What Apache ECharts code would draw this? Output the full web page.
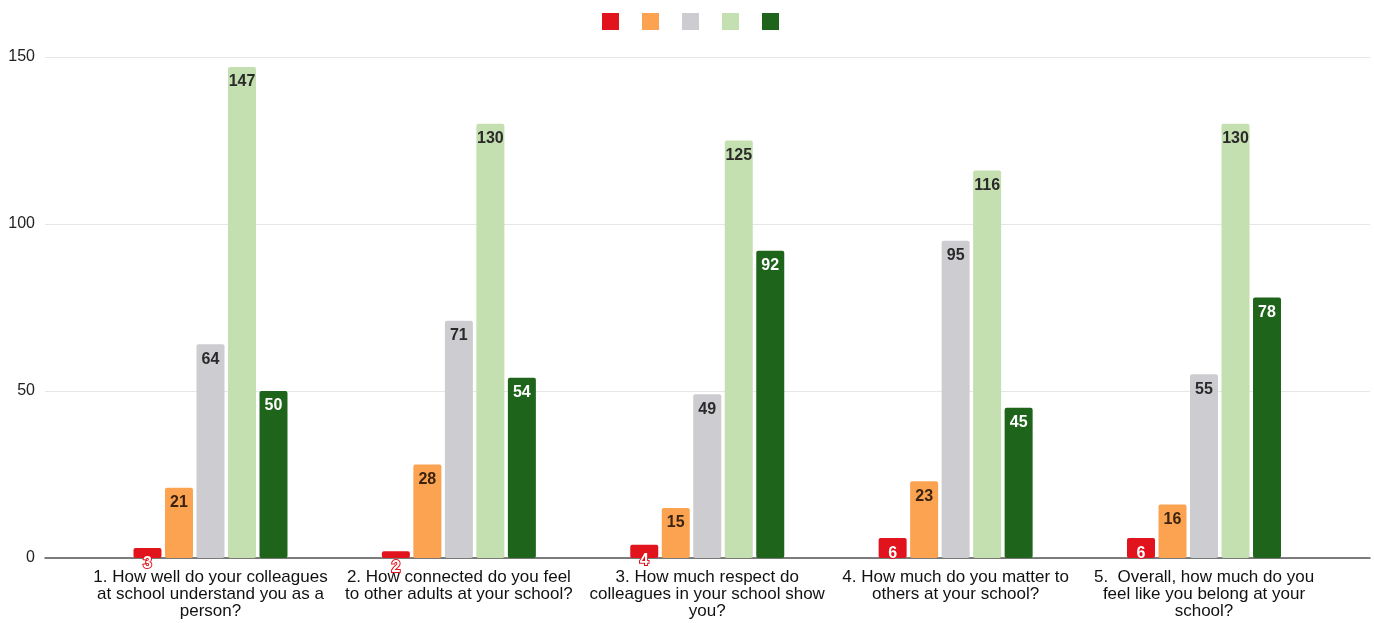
<!DOCTYPE html>
<html>
<head>
<meta charset="utf-8">
<script src="https://cdn.jsdelivr.net/npm/echarts@6/dist/echarts.min.js"></script>
<style>html,body{margin:0;padding:0;background:#fff;}#c{width:1374px;height:623px;}</style>
</head>
<body>
<div id="c"></div>
<script>
const categories = [
  "1. How well do your colleagues\nat school understand you as a\nperson?",
  "2. How connected do you feel\nto other adults at your school?",
  "3. How much respect do\ncolleagues in your school show\nyou?",
  "4. How much do you matter to\nothers at your school?",
  "5.  Overall, how much do you\nfeel like you belong at your\nschool?"
];
const seriesNames = ["Not at all", "A little", "Somewhat", "Quite a bit", "A tremendous amount"];
const redValues = [3, 2, 4, 6, 6];
const orangeValues = [21, 28, 15, 23, 16];
const grayValues = [64, 71, 49, 95, 55];
const lightGreenValues = [147, 130, 125, 116, 130];
const darkGreenValues = [50, 54, 92, 45, 78];
const yTicks = [0, 50, 100, 150];

const colors = ['#e1131d', '#fca352', '#cdcdd1', '#c4dfb0', '#1e641a'];
const labelColors = ['#ffffff', '#3a2410', '#2a2a2a', '#2a2a2a', '#ffffff'];
const allValues = [redValues, orangeValues, grayValues, lightGreenValues, darkGreenValues];
const FONT = "'Liberation Sans', Arial, sans-serif";

const chart = echarts.init(document.getElementById('c'));
const series = allValues.map((vals, i) => ({
  name: seriesNames[i],
  type: 'bar',
  xAxisIndex: 1,
  yAxisIndex: 1,
  data: vals,
  barWidth: 28,
  barGap: '12.5%',
  itemStyle: { color: colors[i], borderRadius: 2 },
  label: {
    show: true,
    position: 'insideTop',
    distance: i === 0 ? 8 : 7,
    color: labelColors[i],
    fontSize: 16,
    fontWeight: 'bold',
    fontFamily: FONT,
    textBorderColor: i === 0 ? colors[0] : 'transparent',
    textBorderWidth: i === 0 ? 2 : 0
  }
}));

chart.setOption({
  animation: false,
  legend: {
    top: 8,
    left: 597,
    itemWidth: 17,
    itemHeight: 17,
    itemGap: 23,
    icon: 'rect',
    formatter: () => '',
    data: seriesNames
  },
  grid: [
    { left: 45, right: 4, top: 57, bottom: 65 },
    { left: 86.3, right: 45.8, top: 57, bottom: 65 }
  ],
  xAxis: [
    { gridIndex: 0, type: 'value', min: 0, max: 1, axisLine: { show: true, onZero: false, lineStyle: { color: '#555', width: 1.5 } }, axisTick: { show: false }, axisLabel: { show: false }, splitLine: { show: false } },
    { gridIndex: 1, type: 'category', data: categories, axisLine: { show: false }, axisTick: { show: false },
      axisLabel: { interval: 0, margin: 11, fontSize: 17, lineHeight: 17, color: '#111', fontFamily: FONT, align: 'center' } }
  ],
  yAxis: [
    { gridIndex: 0, type: 'value', min: yTicks[0], max: yTicks[yTicks.length - 1], interval: 50,
      axisLine: { show: false }, axisTick: { show: false },
      axisLabel: { margin: 10, fontSize: 16, color: '#222', fontFamily: FONT },
      splitLine: { lineStyle: { color: '#e6e6e6', width: 1 } } },
    { gridIndex: 1, type: 'value', min: yTicks[0], max: yTicks[yTicks.length - 1], show: false, splitLine: { show: false } }
  ],
  series: series
});
</script>
</body>
</html>
